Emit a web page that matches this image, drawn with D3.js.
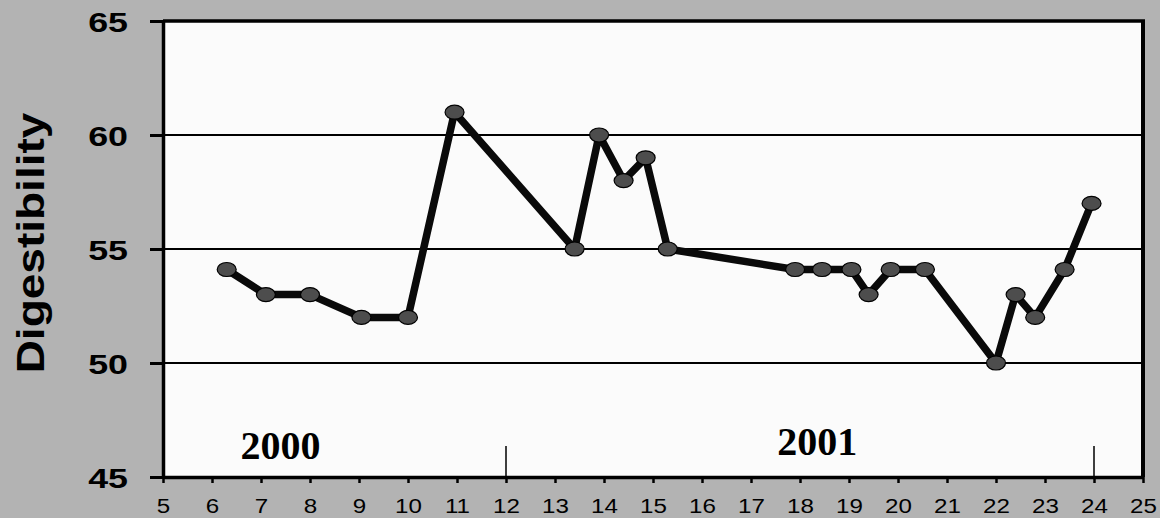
<!DOCTYPE html>
<html>
<head>
<meta charset="utf-8">
<script src="https://cdn.jsdelivr.net/npm/d3@7"></script>
<style>
  body { margin: 0; background: #b3b3b3; }
  svg { display: block; }
</style>
</head>
<body>
<div id="chart"></div>
<script>
// week of year and digestibility readings
var weeks = [6.3, 7.1, 8.0, 9.05, 10.0, 10.95, 13.4, 13.9, 14.4, 14.85, 15.3, 17.9, 18.45, 19.05, 19.4, 19.85, 20.55, 22.0, 22.4, 22.8, 23.4, 23.95];
var digest = [54.1, 53, 53, 52, 52, 61, 55, 60, 58, 59, 55, 54.1, 54.1, 54.1, 53, 54.1, 54.1, 50, 53, 52, 54.1, 57];
var xTicks = d3.range(5, 26);
var yTicks = [45, 50, 55, 60, 65];
var yearNames = ["2000", "2001"];
var yearEnds = [12, 24];   // week where each year's marker stands
var yearAt = [[7.4, 45.8], [18.35, 45.95]];

const width = 1160;
const height = 518;
const margin = {top: 21, right: 17, bottom: 41, left: 163};

const svg = d3.select('#chart').append('svg').attr('width', width).attr('height', height);
svg.append('rect').attr('width', width).attr('height', height).attr('fill', '#b3b3b3');

const x = d3.scaleLinear().domain([5, 25]).range([margin.left, width - margin.right]);
const y = d3.scaleLinear().domain([45, 65]).range([height - margin.bottom, margin.top]);

// plot area
svg.append('rect')
    .attr('x', x(5)).attr('y', y(65))
    .attr('width', x(25) - x(5)).attr('height', y(45) - y(65))
    .attr('fill', '#fbfbfb');

// gridlines
svg.append('g')
    .selectAll('line')
    .data(yTicks.filter(d => d > 45 && d < 65))
    .enter()
    .append('line')
    .attr('x1', x(5)).attr('x2', x(25))
    .attr('y1', d => y(d)).attr('y2', d => y(d))
    .attr('stroke', '#000').attr('stroke-width', 2);

// top and right frame
svg.append('line').attr('x1', x(5)).attr('x2', x(25) + 2).attr('y1', y(65)).attr('y2', y(65))
    .attr('stroke', '#000').attr('stroke-width', 3.5);
svg.append('line').attr('x1', x(25)).attr('x2', x(25)).attr('y1', y(65)).attr('y2', y(45))
    .attr('stroke', '#000').attr('stroke-width', 4);

// year markers
svg.append('g')
    .selectAll('line')
    .data(yearEnds)
    .enter()
    .append('line')
    .attr('x1', d => x(d)).attr('x2', d => x(d))
    .attr('y1', y(45) - 31).attr('y2', y(45))
    .attr('stroke', '#000').attr('stroke-width', 1.5);

svg.append('g')
    .selectAll('text')
    .data(yearNames)
    .enter()
    .append('text')
    .attr('x', (d, i) => x(yearAt[i][0]))
    .attr('y', (d, i) => y(yearAt[i][1]))
    .attr('text-anchor', 'middle')
    .attr('font-family', '"Liberation Serif", "Times New Roman", serif')
    .attr('font-weight', 'bold')
    .attr('font-size', 40)
    .text(d => d);

// axes
const xAxis = svg.append('g')
    .attr('transform', `translate(0, ${y(45)})`)
    .call(d3.axisBottom(x).tickValues(xTicks).tickSize(6).tickSizeOuter(0).tickFormat(d3.format('d')));
xAxis.select('.domain').attr('stroke', '#000').attr('stroke-width', 3.5);
xAxis.selectAll('.tick line').attr('stroke', '#000').attr('stroke-width', 2.5);
xAxis.selectAll('.tick text')
    .attr('y', 0).attr('dy', 0)
    .attr('transform', 'translate(0, 36) scale(1.15, 1)')
    .attr('font-family', '"Liberation Sans", Arial, sans-serif')
    .attr('font-size', 21)
    .attr('fill', '#000');

const yAxis = svg.append('g')
    .attr('transform', `translate(${x(5)}, 0)`)
    .call(d3.axisLeft(y).tickValues(yTicks).tickSize(13).tickSizeOuter(0));
yAxis.select('.domain').attr('stroke', '#000').attr('stroke-width', 3.5);
yAxis.selectAll('.tick line').attr('stroke', '#000').attr('stroke-width', 3);
yAxis.selectAll('.tick text')
    .attr('x', 0).attr('dy', '0.36em')
    .attr('transform', 'translate(-35, 0) scale(1.28, 1)')
    .attr('font-family', '"Liberation Sans", Arial, sans-serif')
    .attr('font-weight', 'bold')
    .attr('font-size', 28)
    .attr('fill', '#000');

// axis title
svg.append('text')
    .attr('transform', `translate(44, ${(y(65) + y(45)) / 2 - 6}) rotate(-90) scale(1.18, 1)`)
    .attr('text-anchor', 'middle')
    .attr('font-family', '"Liberation Sans", Arial, sans-serif')
    .attr('font-weight', 'bold')
    .attr('font-size', 39)
    .text('Digestibility');

// the series
const pts = weeks.map((w, i) => [w, digest[i]]);
const line = d3.line().x(d => x(d[0])).y(d => y(d[1]));
svg.append('path')
    .datum(pts)
    .attr('d', line)
    .attr('fill', 'none')
    .attr('stroke', '#0a0a0a')
    .attr('stroke-width', 7.5)
    .attr('stroke-linejoin', 'round');

svg.append('g')
    .selectAll('ellipse')
    .data(pts)
    .enter()
    .append('ellipse')
    .attr('cx', d => x(d[0]))
    .attr('cy', d => y(d[1]))
    .attr('rx', 9.5)
    .attr('ry', 7)
    .attr('fill', '#4d4d4d')
    .attr('stroke', '#000')
    .attr('stroke-width', 1.2);
</script>
</body>
</html>
